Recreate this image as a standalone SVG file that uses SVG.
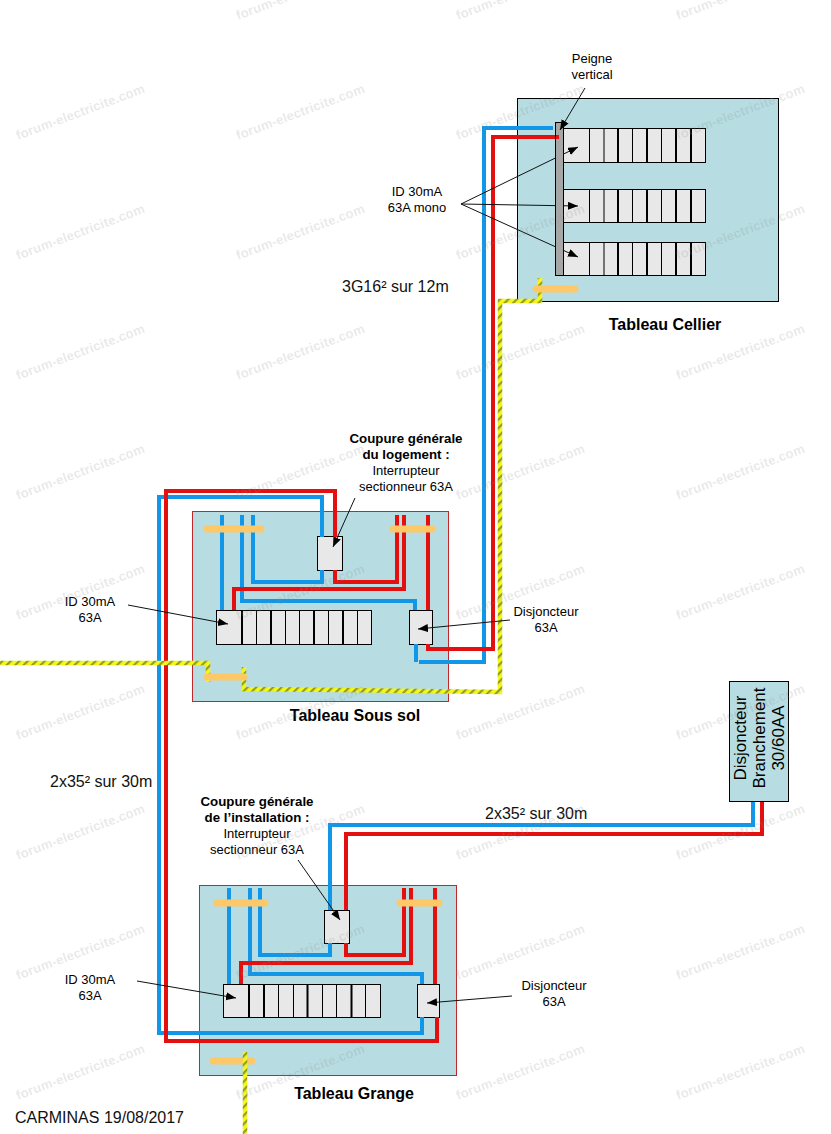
<svg xmlns="http://www.w3.org/2000/svg" width="831" height="1134" viewBox="0 0 831 1134">
<style>
text{font-family:"Liberation Sans",Arial,sans-serif;fill:#000}
.s{font-size:13px;text-anchor:middle}
.b{font-size:13.3px;font-weight:bold;text-anchor:middle}
.t{font-size:16px;font-weight:bold;text-anchor:middle}
.l{font-size:16px;fill:#111}
.v{font-size:17px;text-anchor:middle}
.box{fill:#b7dde2;stroke:#000;stroke-width:1}
.boxr{fill:#b7dde2;stroke:#c0282a;stroke-width:1}
.m{fill:#e8e8e8;stroke:#000;stroke-width:1}
.d{stroke:#000;stroke-width:1;fill:none}
.d2{stroke:#000;stroke-width:2;fill:none}
.blue,.red,.yel,.bar,.arr{fill:none}
.blue{stroke:#1296e8;stroke-width:4}
.red{stroke:#e41010;stroke-width:4}
.yel{stroke:url(#hatch);stroke-width:4.500}
.bar{stroke:#fdc868;stroke-width:7;stroke-linecap:round}
.arr{stroke:#111;stroke-width:1;marker-end:url(#ah)}
.wm{font-size:13px;font-weight:bold;letter-spacing:.2px;fill:#8c8c8c;fill-opacity:.2}
</style>
<defs>
<marker id="ah" markerUnits="userSpaceOnUse" markerWidth="12" markerHeight="10" refX="10" refY="4" orient="auto"><path d="M0 0L10 4L0 8z" fill="#000"/></marker>
<pattern id="hatch" patternUnits="userSpaceOnUse" width="6" height="6" patternTransform="rotate(45)"><rect width="6" height="6" fill="#f6f61c"/><rect width="2.200" height="6" fill="#8f9f22"/></pattern>
</defs>
<rect width="831" height="1134" fill="#fff"/>

<g id="tableau-cellier">
<rect class="box" x="517.500" y="98.500" width="261" height="203"/>
<rect class="m" x="563.500" y="128.500" width="142" height="34"/>
<rect class="m" x="563.500" y="189.500" width="142" height="33"/>
<rect class="m" x="563.500" y="242.500" width="142" height="33"/>
<path class="d" d="M589.500 128v34M604 128v34M632.500 128v34M661.500 128v34M589.500 189v33M604 189v33M632.500 189v33M661.500 189v33M589.500 242v33M604 242v33M632.500 242v33M661.500 242v33"/>
<path class="d2" d="M618 128v34M647 128v34M676 128v34M691 128v34M618 189v33M647 189v33M676 189v33M691 189v33M618 242v33M647 242v33M676 242v33M691 242v33"/>
<text class="t" x="665" y="330">Tableau Cellier</text>
</g>

<g id="tableau-sous-sol">
<rect class="boxr" x="192.500" y="511.500" width="256" height="190"/>
<rect class="m" x="317.500" y="536.500" width="25" height="34"/>
<rect class="m" x="216.500" y="610.500" width="155" height="34"/>
<path class="d" d="M256.500 610v34M285.500 610v34M299.500 610v34M328.500 610v34M357.500 610v34"/>
<path class="d2" d="M242 610v34M271 610v34M314 610v34M343 610v34"/>
<rect class="m" x="409.500" y="610.500" width="23" height="34"/>
<text class="t" x="355" y="721">Tableau Sous sol</text>
</g>

<g id="tableau-grange">
<rect class="boxr" x="199.500" y="885.500" width="257" height="190"/>
<rect class="m" x="324.500" y="910.500" width="25" height="33"/>
<rect class="m" x="223.500" y="984.500" width="157" height="33"/>
<path class="d" d="M278.500 984v33M293.500 984v33M322.500 984v33M336.500 984v33M365.500 984v33"/>
<path class="d2" d="M249 984v33M264 984v33M307.500 984v33M351.500 984v33"/>
<rect class="m" x="417.500" y="984.500" width="22" height="33"/>
<text class="t" x="354" y="1099">Tableau Grange</text>
</g>

<g id="disjoncteur-branchement">
<rect class="box" x="729.500" y="681.500" width="59" height="120"/>
<text class="v" transform="translate(746 738) rotate(-90)">Disjoncteur</text>
<text class="v" transform="translate(765 738) rotate(-90)">Branchement</text>
<text class="v" transform="translate(784 738) rotate(-90)">30/60AA</text>
</g>

<g id="connectors">
<path class="blue" d="M553 128H484V662H419M416 644V662M415 610V601H242V515M222 610V515M322 537V497H159V1033H422V1017M422 984V974H250V888M229 984V888M322 570V582H253V515M330 910V825H753V802M330 943V955H260V888"/>
<path class="red" d="M559 137H493V649H428V644M428 610V515M335 537V491H166V1041H437V1017M435 984V888M397 515V582H335V570M404 515V589H234V610M762 802V834H346V910M346 943V955H404V888M411 888V963H241V984"/>
<path class="yel" d="M0 663H208V682M244 667V689L500 692V301H540V278"/>
<path class="bar" d="M207 529H261M393 529H432M207 677H244M536 289H575M217 903H265M400 903H439M213 1061H252"/>
<path class="yel" d="M245 1052V1134"/>
</g>

<g id="annotations">
<path class="arr" d="M461 204L578 147"/>
<path class="arr" d="M461 204L578 206"/>
<path class="arr" d="M461 204L578 257"/>
<rect id="peigne-vertical" x="555.500" y="122.500" width="8" height="153" fill="#a6a6a6" stroke="#000"/>
<path class="red" d="M556 137H559"/>
<path class="arr" d="M585 88L560 130"/>
<path class="arr" d="M355 498L333 547"/>
<path class="arr" d="M128 605L228 624"/>
<path class="arr" d="M510 620L418 629"/>
<path class="arr" d="M298 860L340 920"/>
<path class="arr" d="M137 981L236 998"/>
<path class="arr" d="M512 996L427 1003"/>
<text class="s" x="592" y="63">Peigne</text>
<text class="s" x="592" y="79">vertical</text>
<text class="s" x="417" y="196">ID 30mA</text>
<text class="s" x="417" y="212">63A mono</text>
<text class="l" x="342" y="292">3G16² sur 12m</text>
<text class="b" x="406" y="443">Coupure générale</text>
<text class="b" x="406" y="459">du logement :</text>
<text class="s" x="406" y="475">Interrupteur</text>
<text class="s" x="406" y="491">sectionneur 63A</text>
<text class="s" x="90" y="606">ID 30mA</text>
<text class="s" x="90" y="622">63A</text>
<text class="s" x="546" y="616">Disjoncteur</text>
<text class="s" x="546" y="632">63A</text>
<text class="l" x="50" y="787">2x35² sur 30m</text>
<text class="l" x="485" y="819">2x35² sur 30m</text>
<text class="b" x="257" y="806">Coupure générale</text>
<text class="b" x="257" y="822">de l’installation :</text>
<text class="s" x="257" y="838">Interrupteur</text>
<text class="s" x="257" y="854">sectionneur 63A</text>
<text class="s" x="90" y="984">ID 30mA</text>
<text class="s" x="90" y="1000">63A</text>
<text class="s" x="554" y="990">Disjoncteur</text>
<text class="s" x="554" y="1006">63A</text>
<text class="l" x="15" y="1123">CARMINAS 19/08/2017</text>
</g>

<g id="watermark">
<text class="wm" transform="translate(238 20) rotate(-20.500)">forum-electricite.com</text>
<text class="wm" transform="translate(458 20) rotate(-20.500)">forum-electricite.com</text>
<text class="wm" transform="translate(678 20) rotate(-20.500)">forum-electricite.com</text>
<text class="wm" transform="translate(18 140) rotate(-20.500)">forum-electricite.com</text>
<text class="wm" transform="translate(238 140) rotate(-20.500)">forum-electricite.com</text>
<text class="wm" transform="translate(458 140) rotate(-20.500)">forum-electricite.com</text>
<text class="wm" transform="translate(678 140) rotate(-20.500)">forum-electricite.com</text>
<text class="wm" transform="translate(18 260) rotate(-20.500)">forum-electricite.com</text>
<text class="wm" transform="translate(238 260) rotate(-20.500)">forum-electricite.com</text>
<text class="wm" transform="translate(458 260) rotate(-20.500)">forum-electricite.com</text>
<text class="wm" transform="translate(678 260) rotate(-20.500)">forum-electricite.com</text>
<text class="wm" transform="translate(18 380) rotate(-20.500)">forum-electricite.com</text>
<text class="wm" transform="translate(238 380) rotate(-20.500)">forum-electricite.com</text>
<text class="wm" transform="translate(458 380) rotate(-20.500)">forum-electricite.com</text>
<text class="wm" transform="translate(678 380) rotate(-20.500)">forum-electricite.com</text>
<text class="wm" transform="translate(18 500) rotate(-20.500)">forum-electricite.com</text>
<text class="wm" transform="translate(238 500) rotate(-20.500)">forum-electricite.com</text>
<text class="wm" transform="translate(458 500) rotate(-20.500)">forum-electricite.com</text>
<text class="wm" transform="translate(678 500) rotate(-20.500)">forum-electricite.com</text>
<text class="wm" transform="translate(18 620) rotate(-20.500)">forum-electricite.com</text>
<text class="wm" transform="translate(238 620) rotate(-20.500)">forum-electricite.com</text>
<text class="wm" transform="translate(458 620) rotate(-20.500)">forum-electricite.com</text>
<text class="wm" transform="translate(678 620) rotate(-20.500)">forum-electricite.com</text>
<text class="wm" transform="translate(18 740) rotate(-20.500)">forum-electricite.com</text>
<text class="wm" transform="translate(238 740) rotate(-20.500)">forum-electricite.com</text>
<text class="wm" transform="translate(458 740) rotate(-20.500)">forum-electricite.com</text>
<text class="wm" transform="translate(678 740) rotate(-20.500)">forum-electricite.com</text>
<text class="wm" transform="translate(18 860) rotate(-20.500)">forum-electricite.com</text>
<text class="wm" transform="translate(238 860) rotate(-20.500)">forum-electricite.com</text>
<text class="wm" transform="translate(458 860) rotate(-20.500)">forum-electricite.com</text>
<text class="wm" transform="translate(678 860) rotate(-20.500)">forum-electricite.com</text>
<text class="wm" transform="translate(18 980) rotate(-20.500)">forum-electricite.com</text>
<text class="wm" transform="translate(238 980) rotate(-20.500)">forum-electricite.com</text>
<text class="wm" transform="translate(458 980) rotate(-20.500)">forum-electricite.com</text>
<text class="wm" transform="translate(678 980) rotate(-20.500)">forum-electricite.com</text>
<text class="wm" transform="translate(18 1100) rotate(-20.500)">forum-electricite.com</text>
<text class="wm" transform="translate(238 1100) rotate(-20.500)">forum-electricite.com</text>
<text class="wm" transform="translate(458 1100) rotate(-20.500)">forum-electricite.com</text>
<text class="wm" transform="translate(678 1100) rotate(-20.500)">forum-electricite.com</text>
</g>
</svg>
